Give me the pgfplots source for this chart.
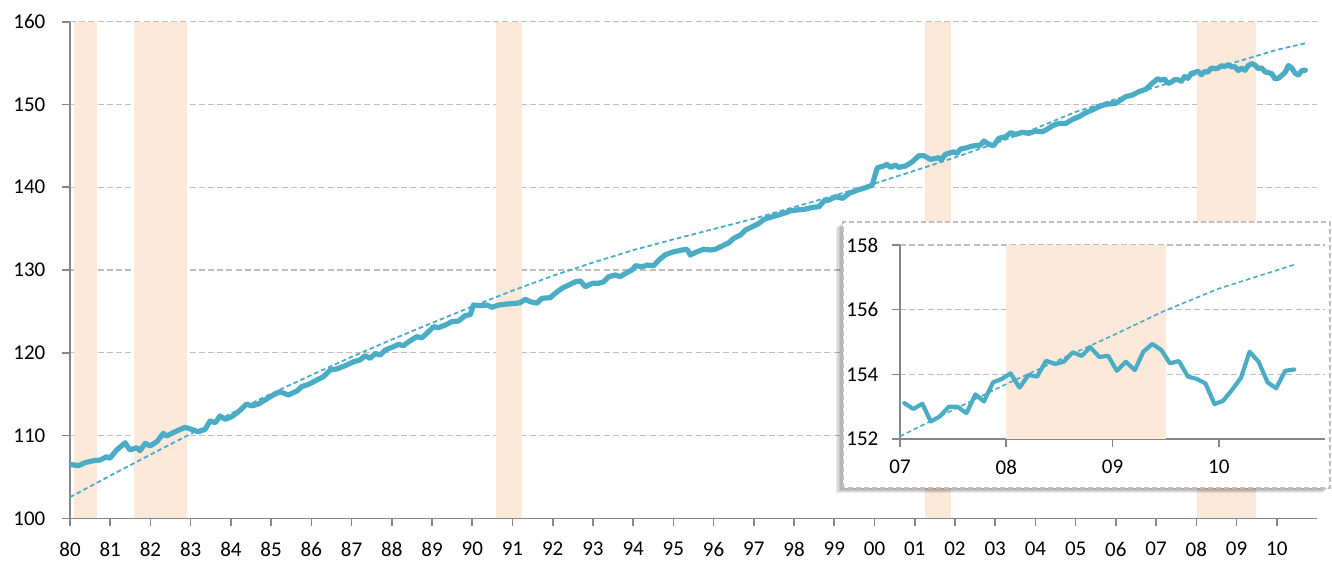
\documentclass[border=0pt]{standalone}
\usepackage{fontspec}
\setmainfont{Carlito}
\usepackage{pgfplots}
\usetikzlibrary{calc}
\pgfplotsset{compat=1.18}
\definecolor{lineblue}{HTML}{4BACC6}
\definecolor{recess}{HTML}{FCE9DA}
\definecolor{gridgray}{HTML}{BEBEBE}
\definecolor{axisgray}{HTML}{868686}
\pgfplotsset{
  chartbase/.style={
    scale only axis,
    axis lines*=left,
    axis line style={draw=axisgray, line width=0.8pt},
    tick align=outside,
    major tick length=3.8pt,
    tick style={draw=axisgray, line width=0.8pt},
    ymajorgrids,
    grid style={draw=gridgray, line width=0.7pt, dash pattern=on 3pt off 1.6pt},
    ticklabel style={font=\fontsize{10.5}{12}\selectfont, text=black},
    /pgf/number format/assume math mode=true,
    clip=true,
  }
}
\begin{document}
\begin{tikzpicture}
\path[use as bounding box] (-35pt,-22.85pt) rectangle (631pt,259.15pt);
\begin{axis}[chartbase,
  at={(0,0)}, anchor=south west,
  width=623.5pt, height=248.3pt,
  xmin=1980, xmax=2011, ymin=100, ymax=160,
  ytick={100,110,120,130,140,150,160},
  xtick={1980,1981,...,2010},
  xticklabels={80,81,82,83,84,85,86,87,88,89,90,91,92,93,94,95,96,97,98,99,00,01,02,03,04,05,06,07,08,09,10},
  yticklabel style={xshift=-5pt},
  xticklabel style={yshift=-4.5pt},
]
% recession bands
\addplot[fill=recess, draw=none] coordinates {(1980.10,100) (1980.10,160) (1980.66,160) (1980.66,100)} -- cycle;
\addplot[fill=recess, draw=none] coordinates {(1981.59,100) (1981.59,160) (1982.90,160) (1982.90,100)} -- cycle;
\addplot[fill=recess, draw=none] coordinates {(1990.60,100) (1990.60,160) (1991.24,160) (1991.24,100)} -- cycle;
\addplot[fill=recess, draw=none] coordinates {(2001.25,100) (2001.25,160) (2001.91,160) (2001.91,100)} -- cycle;
\addplot[fill=recess, draw=none] coordinates {(2008.01,100) (2008.01,160) (2009.49,160) (2009.49,100)} -- cycle;
% data
\addplot[lineblue, line width=2.6pt, line join=round, line cap=round] table {
1980.00 106.52
1980.21 106.36
1980.37 106.72
1980.58 106.96
1980.75 107.05
1980.91 107.44
1980.99 107.25
1981.16 108.25
1981.37 109.13
1981.49 108.25
1981.66 108.53
1981.74 108.17
1981.87 109.06
1981.99 108.74
1982.16 109.26
1982.32 110.27
1982.40 109.94
1982.61 110.46
1982.86 110.99
1983.02 110.75
1983.19 110.46
1983.36 110.75
1983.48 111.76
1983.61 111.55
1983.73 112.36
1983.86 111.96
1984.02 112.28
1984.19 112.88
1984.39 113.81
1984.52 113.57
1984.68 113.81
1984.85 114.30
1985.02 114.81
1985.22 115.30
1985.43 114.90
1985.64 115.38
1985.76 115.90
1985.93 116.19
1986.09 116.59
1986.30 117.11
1986.47 117.92
1986.63 118.04
1986.84 118.44
1987.05 118.92
1987.21 119.13
1987.34 119.65
1987.46 119.33
1987.59 119.93
1987.71 119.73
1987.84 120.33
1988.04 120.73
1988.17 121.02
1988.29 120.85
1988.42 121.34
1988.62 121.94
1988.75 121.82
1988.91 122.54
1989.04 123.15
1989.16 123.03
1989.33 123.35
1989.49 123.75
1989.66 123.84
1989.82 124.48
1989.95 124.60
1990.03 125.77
1990.20 125.69
1990.37 125.77
1990.49 125.49
1990.66 125.77
1990.86 125.89
1991.07 125.97
1991.19 126.05
1991.32 126.46
1991.44 126.17
1991.61 126.00
1991.73 126.58
1991.94 126.66
1992.06 127.18
1992.23 127.79
1992.40 128.19
1992.57 128.59
1992.69 128.67
1992.81 127.98
1992.98 128.39
1993.14 128.39
1993.27 128.59
1993.39 129.19
1993.56 129.40
1993.68 129.19
1993.81 129.60
1993.97 130.00
1994.06 130.52
1994.22 130.40
1994.35 130.60
1994.51 130.52
1994.64 131.21
1994.80 131.85
1995.01 132.21
1995.22 132.42
1995.34 132.50
1995.42 131.81
1995.59 132.21
1995.75 132.50
1995.92 132.42
1996.04 132.50
1996.21 132.90
1996.38 133.30
1996.50 133.83
1996.58 134.02
1996.67 134.23
1996.79 134.83
1996.96 135.23
1997.13 135.64
1997.25 136.12
1997.46 136.44
1997.67 136.73
1997.79 136.93
1997.92 137.17
1998.08 137.26
1998.25 137.33
1998.46 137.57
1998.62 137.65
1998.75 138.37
1998.87 138.46
1999.04 138.86
1999.21 138.66
1999.37 139.27
1999.58 139.66
1999.78 139.95
1999.94 140.26
2000.07 142.36
2000.23 142.56
2000.31 142.77
2000.40 142.40
2000.52 142.68
2000.60 142.40
2000.77 142.56
2000.94 143.08
2001.10 143.81
2001.23 143.81
2001.39 143.37
2001.60 143.57
2001.66 143.29
2001.76 143.98
2001.97 144.29
2002.05 144.10
2002.14 144.62
2002.30 144.78
2002.43 144.98
2002.63 145.10
2002.72 145.59
2002.84 145.19
2002.96 145.02
2003.09 145.91
2003.26 146.11
2003.38 146.59
2003.51 146.39
2003.67 146.63
2003.84 146.51
2004.00 146.79
2004.17 146.70
2004.30 147.03
2004.42 147.43
2004.59 147.72
2004.75 147.70
2004.92 148.20
2005.08 148.52
2005.25 149.00
2005.41 149.33
2005.58 149.73
2005.74 150.02
2005.99 150.14
2006.12 150.54
2006.24 150.94
2006.41 151.14
2006.57 151.54
2006.74 151.83
2006.90 152.55
2007.04 153.11
2007.125 152.93
2007.21 153.09
2007.29 152.54
2007.375 152.70
2007.46 153.00
2007.54 153.00
2007.625 152.80
2007.71 153.38
2007.79 153.16
2007.875 153.75
2007.96 153.86
2008.04 154.03
2008.125 153.59
2008.21 153.98
2008.29 153.93
2008.375 154.42
2008.46 154.32
2008.54 154.39
2008.625 154.68
2008.71 154.57
2008.79 154.84
2008.875 154.54
2008.96 154.57
2009.04 154.11
2009.125 154.39
2009.21 154.13
2009.29 154.70
2009.375 154.94
2009.46 154.75
2009.54 154.34
2009.625 154.41
2009.71 153.93
2009.79 153.86
2009.875 153.72
2009.96 153.08
2010.04 153.18
2010.125 153.52
2010.21 153.90
2010.29 154.70
2010.375 154.39
2010.46 153.75
2010.54 153.57
2010.625 154.11
2010.71 154.15
};
% trend
\addplot[lineblue, line width=0.9pt, dash pattern=on 2.3pt off 1.5pt] table {
1980 102.55
1981 105.15
1982 107.70
1983 110.20
1984 112.65
1985 115.05
1986 117.30
1987 119.50
1988 121.60
1989 123.60
1990 125.60
1991 127.50
1992 129.30
1993 130.90
1994 132.40
1995 133.70
1996 134.95
1997 136.20
1998 137.60
1999 139.00
2000 140.45
2001 142.00
2002 143.60
2003 145.30
2004 147.10
2005 149.10
2006 150.65
2007 152.10
2008 153.65
2009 155.15
2010 156.60
2010.71 157.40
};
\end{axis}
% inset frame with soft shadow
\foreach \s in {1,2,3,4,5} {
  \fill[black, opacity=0.08] ($(386.5pt,15.15pt)+(-\s*0.7pt,-\s*0.45pt)$) rectangle ($(630pt,148.15pt)+(-\s*0.7pt,-\s*0.45pt)$);
}
\fill[white] (386.5pt,15.15pt) rectangle (630pt,148.15pt);
\draw[gridgray, line width=0.7pt, dash pattern=on 2.5pt off 1.5pt] (386.5pt,15.15pt) rectangle (630pt,148.15pt);
\begin{axis}[chartbase,
  at={(415pt,39.65pt)}, anchor=south west,
  width=212.5pt, height=97pt,
  xmin=2007, xmax=2011, ymin=152, ymax=158,
  ytick={152,154,156,158},
  xtick={2007,2008,2009,2010},
  xticklabels={07,08,09,10},
  yticklabel style={xshift=-3.5pt},
  xticklabel style={yshift=-3pt},
]
\addplot[fill=recess, draw=none] coordinates {(2008.0,152) (2008.0,158) (2009.5,158) (2009.5,152)} -- cycle;
\addplot[lineblue, line width=2.1pt, line join=round, line cap=round] table {
2007.04 153.11
2007.125 152.93
2007.21 153.09
2007.29 152.54
2007.375 152.70
2007.46 153.00
2007.54 153.00
2007.625 152.80
2007.71 153.38
2007.79 153.16
2007.875 153.75
2007.96 153.86
2008.04 154.03
2008.125 153.59
2008.21 153.98
2008.29 153.93
2008.375 154.42
2008.46 154.32
2008.54 154.39
2008.625 154.68
2008.71 154.57
2008.79 154.84
2008.875 154.54
2008.96 154.57
2009.04 154.11
2009.125 154.39
2009.21 154.13
2009.29 154.70
2009.375 154.94
2009.46 154.75
2009.54 154.34
2009.625 154.41
2009.71 153.93
2009.79 153.86
2009.875 153.72
2009.96 153.08
2010.04 153.18
2010.125 153.52
2010.21 153.90
2010.29 154.70
2010.375 154.39
2010.46 153.75
2010.54 153.57
2010.625 154.11
2010.71 154.15
};
\addplot[lineblue, line width=0.8pt, dash pattern=on 2.3pt off 1.5pt] table {
2007.00 152.08
2007.50 152.90
2008.00 153.70
2008.50 154.45
2009.00 155.20
2009.50 155.98
2010.00 156.65
2010.71 157.39
};
\end{axis}
\end{tikzpicture}
\end{document}
